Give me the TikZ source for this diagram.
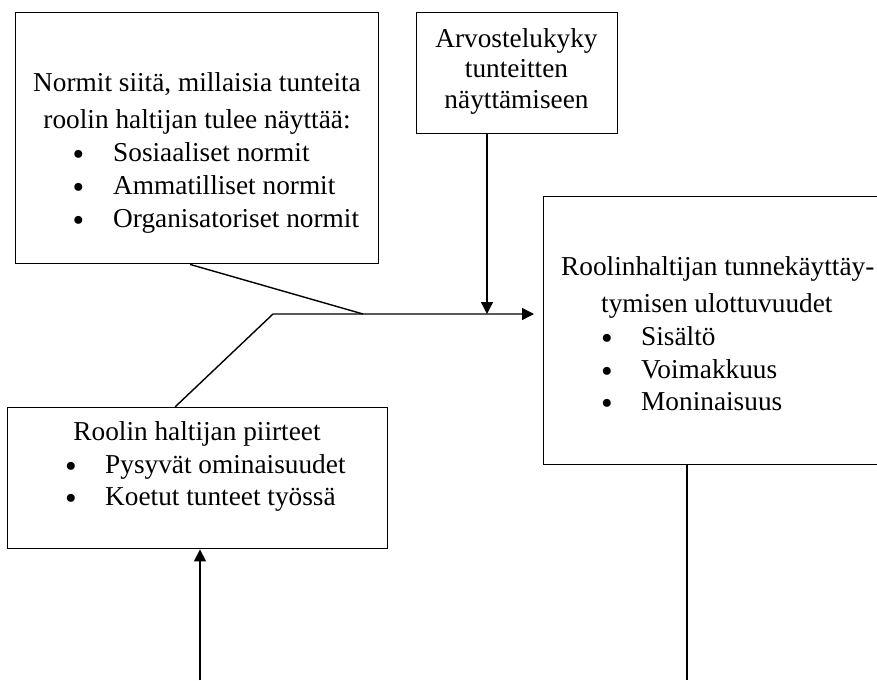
\documentclass[tikz,border=0pt]{standalone}
\usepackage{fontspec}
\setmainfont{Liberation Serif}
\newfontfamily\bulletfont{DejaVu Sans}
\usetikzlibrary{arrows.meta}
\begin{document}
\begin{tikzpicture}[x=1pt,y=-1pt,
  box/.style={draw, line width=1.4pt, inner sep=0pt, anchor=north west},
  txt/.style={inner sep=0pt, anchor=base, font=\fontsize{27.3}{32}\selectfont},
  ltxt/.style={txt, anchor=base west},
  blt/.style={inner sep=0pt, anchor=base, yshift=-3pt, font=\bulletfont\fontsize{27.3}{32}\selectfont},
  link/.style={line width=1.4pt},
  arr/.style={link, -{Triangle[length=12pt,width=12pt]}}]
\clip (0,0) rectangle (877,680);
\fill[white] (0,0) rectangle (877,680);

% boxes
\node[box, minimum width=363pt, minimum height=251pt] (norms) at (15,12) {};
\node[box, minimum width=201pt, minimum height=121pt] (judg) at (416,12) {};
\node[box, minimum width=400pt, minimum height=268pt] (dims) at (543,196) {};
\node[box, minimum width=380pt, minimum height=141pt] (traits) at (7,407) {};

% norms box text
\node[txt] (n1) at (197,91) {Normit siitä, millaisia tunteita};
\node[txt] (n2) at (197,128) {roolin haltijan tulee näyttää:};
\node[blt] (n3b) at (78.5,161) {•};
\node[ltxt] (n3) at (113,161) {Sosiaaliset normit};
\node[blt] (n4b) at (78.5,194) {•};
\node[ltxt] (n4) at (113,194) {Ammatilliset normit};
\node[blt] (n5b) at (78.5,227) {•};
\node[ltxt] (n5) at (113,227) {Organisatoriset normit};

% judgement box text
\node[txt] (j1t) at (516.5,47) {Arvostelukyky};
\node[txt] (j2t) at (516.5,77) {tunteitten};
\node[txt] (j3t) at (516.5,108) {näyttämiseen};

% dimensions box text
\node[ltxt] (d1) at (561,275) {Roolinhaltijan tunnekäyttäy-};
\node[ltxt] (d2) at (601,312) {tymisen ulottuvuudet};
\node[blt] (d3b) at (607,345) {•};
\node[ltxt] (d3) at (641,345) {Sisältö};
\node[blt] (d4b) at (607,378) {•};
\node[ltxt] (d4) at (641,378) {Voimakkuus};
\node[blt] (d5b) at (607,410) {•};
\node[ltxt] (d5) at (641,410) {Moninaisuus};

% traits box text
\node[txt] (t1) at (197,440) {Roolin haltijan piirteet};
\node[blt] (t2b) at (71,473) {•};
\node[ltxt] (t2) at (105,473) {Pysyvät ominaisuudet};
\node[blt] (t3b) at (71,505) {•};
\node[ltxt] (t3) at (105,505) {Koetut tunteet työssä};

% connectors
\coordinate (jn) at (363,314);
\coordinate (jt) at (273,314);
\coordinate (tip) at (534,314);
\coordinate (inb) at (200,680);
\coordinate (outb) at (687,680);

\draw[link] (190,0 |- norms.south) -- (jn);
\draw[arr] (175,0 |- traits.north) -- (jt) -- (tip);
\draw[arr] (487,0 |- judg.south) -- (487,0 |- jt);
\draw[arr] (inb) -- (200,0 |- traits.south);
\draw[link] (687,0 |- dims.south) -- (outb);
\end{tikzpicture}
\end{document}
